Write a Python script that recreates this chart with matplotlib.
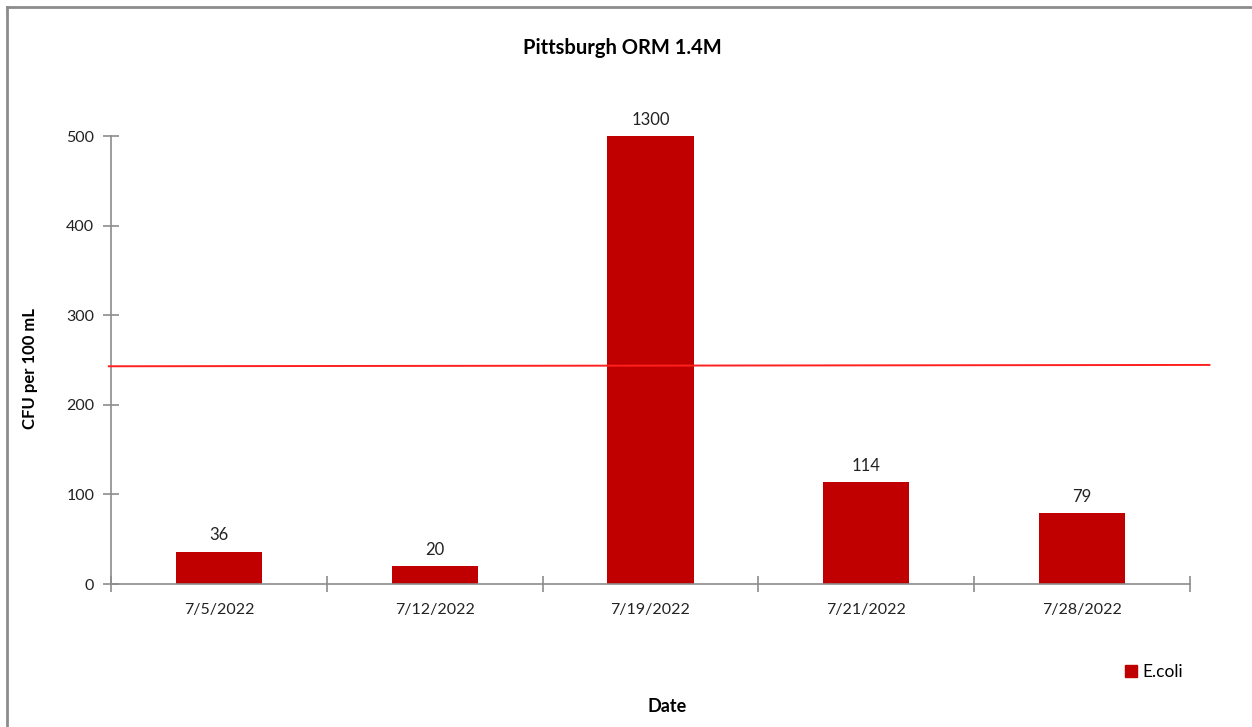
import matplotlib.pyplot as plt
from matplotlib.lines import Line2D

dates = ["7/5/2022", "7/12/2022", "7/19/2022", "7/21/2022", "7/28/2022"]
ecoli = [36, 20, 1300, 114, 79]
threshold = [243, 244.5]
y_max = 500

plt.rcParams['font.family'] = ['Lato', 'DejaVu Sans']

fig = plt.figure(figsize=(12.52, 7.27), dpi=100)
ax = fig.add_axes([111 / 1252, 1 - 584 / 727, (1190 - 111) / 1252, (584 - 136) / 727])

x = list(range(len(dates)))
bars = ax.bar(x, ecoli, width=0.4, color='#C00000', label='E.coli', zorder=2)

for xi, v in zip(x, ecoli):
    ax.annotate(str(v), (xi, min(v, y_max)), xytext=(0, 6), textcoords='offset points',
                ha='center', va='bottom', fontsize=12, color='#222222')

ax.plot([-0.51, 4.59], threshold, color='#FF2020', linewidth=1.4, clip_on=False, zorder=3)

ax.set_xlim(-0.5, 4.5)
ax.set_ylim(0, y_max)
ax.set_yticks(range(0, 501, 100))
ax.set_xticks(x)
ax.set_xticklabels(dates)
ax.set_xticks([i + 0.5 for i in range(-1, len(dates))], minor=True)

for s in ['top', 'right']:
    ax.spines[s].set_visible(False)
for s in ['left', 'bottom']:
    ax.spines[s].set_color('#8c8c8c')
    ax.spines[s].set_linewidth(1.2)

ax.tick_params(axis='y', direction='inout', length=12, width=1.2, color='#8c8c8c',
               labelsize=11.5, labelcolor='#222222', pad=6)
ax.tick_params(axis='x', which='major', length=0, labelsize=11.5, labelcolor='#222222', pad=14)
ax.tick_params(axis='x', which='minor', direction='inout', length=12, width=1.2, color='#8c8c8c')

fig.text(622 / 1252, 1 - 48 / 727, "Pittsburgh ORM 1.4M", ha='center', va='center',
         fontsize=14.5, fontweight='bold')
fig.text(30 / 1252, 1 - 368 / 727, "CFU per 100 mL", ha='center', va='center',
         rotation=90, fontsize=12, fontweight='bold')
fig.text(667 / 1252, 1 - 707 / 727, "Date", ha='center', va='center',
         fontsize=13, fontweight='bold')

handle = Line2D([], [], marker='s', linestyle='none', color='#C00000', markersize=8)
fig.legend([handle], ['E.coli'], loc='center left', bbox_to_anchor=(1122 / 1252, 1 - 672 / 727),
           frameon=False, fontsize=12.5, handlelength=1.0, handletextpad=0.2, borderaxespad=0,
           borderpad=0)

# outer border, only left and top are visible in the source
fig.add_artist(Line2D([6.5 / 1252, 6.5 / 1252], [0, 1 - 6.5 / 727], color='#8c8c8c', linewidth=2))
fig.add_artist(Line2D([6.5 / 1252, 1], [1 - 6.5 / 727, 1 - 6.5 / 727], color='#8c8c8c', linewidth=2))

fig.savefig("out.png", dpi=100)
